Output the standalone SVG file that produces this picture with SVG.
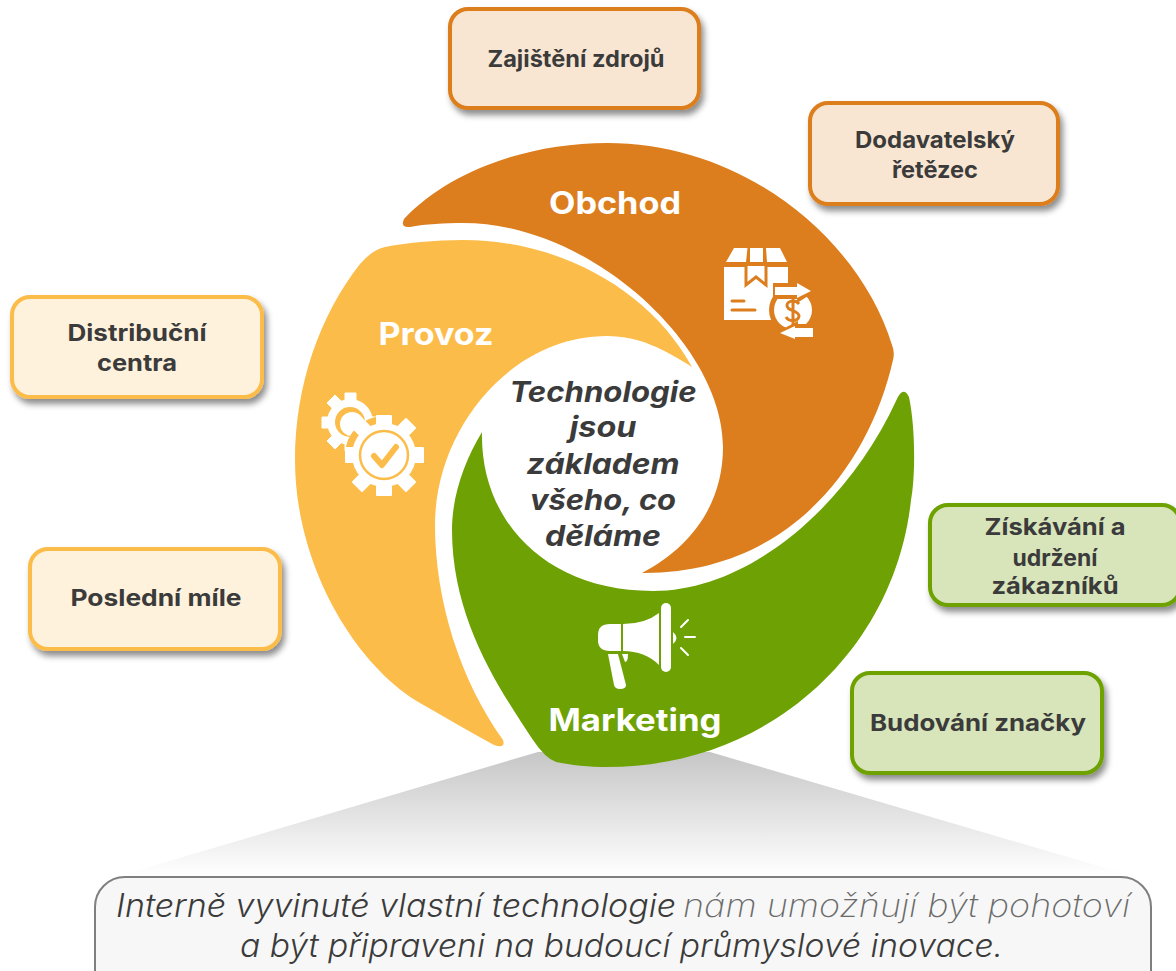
<svg xmlns="http://www.w3.org/2000/svg" width="1176" height="971" viewBox="0 0 1176 971">
<style>
text{font-family:Inter,"Open Sans","Noto Sans",sans-serif}
.box text{font-weight:700;font-size:23px;fill:#3b3b3b;text-anchor:middle}
.box rect{stroke-width:4;filter:url(#sh)}
.o rect{fill:#f9e6d2;stroke:#dc7e1e}
.y rect{fill:#fff2dc;stroke:#fcbc4a}
.g rect{fill:#d8e5bb;stroke:#6ea204}
.seg{font-weight:700;font-size:31px;fill:#fff;text-anchor:middle}
.c{font-weight:700;font-style:italic;font-size:28px;fill:#3b3b3b;text-anchor:middle}
.w{fill:#fff}
.note{font-style:italic;font-size:32px;fill:#3b3b3b;font-weight:300}
</style>
<defs>
<filter id="sh" x="-10%" y="-10%" width="125%" height="130%"><feDropShadow dx="3" dy="5" stdDeviation="3" flood-color="#000" flood-opacity=".45"/></filter>
<linearGradient id="fade" x1="0" y1="0" x2="0" y2="1"><stop offset="0" stop-color="#c6c6c6"/><stop offset="1" stop-color="#fff"/></linearGradient>
</defs>
<g id="connectors">
<path d="M538 752H710L1129 875H122Z" fill="url(#fade)"/>
</g>
<g id="note">
<rect x="95" y="877" width="1056" height="130" rx="30" fill="#f7f7f7" stroke="#7f7f7f" stroke-width="2"/>
<text class="note" y="917"><tspan x="116" textLength="560" lengthAdjust="spacingAndGlyphs">Interně vyvinuté vlastní technologie</tspan> <tspan x="683" textLength="447" lengthAdjust="spacingAndGlyphs" fill="#6b6b6b" font-weight="200">nám umožňují být pohotoví</tspan></text>
<text class="note" y="957" x="240" textLength="763" lengthAdjust="spacingAndGlyphs">a být připraveni na budoucí průmyslové inovace.</text>
</g>
<g id="obchod">
<path d="M404 219C450 170 530 143 607 143C745 143 860 240 892 345Q895 352 893 360C868 470 785 574 642 573C690 548 723 505 723 447C723 345 590 223 463 223C445 223 425 224 410 227Q400 228 404 219Z" fill="#dc7e1e"/>
<text class="seg" x="615" y="214" textLength="132" lengthAdjust="spacingAndGlyphs">Obchod</text>
<g id="box-icon">
<path class="w" d="M724 267H788V320H724Z"/>
<path class="w" d="M726 262L734 248H747.500L746 262ZM750 248H763V262H750ZM766 248H780L787 262H767Z"/>
<path d="M746 266V285L756 277L766 285V266" fill="#fff" stroke="#dc7e1e" stroke-width="3"/>
<path d="M732 301H744M732 310H755" stroke="#dc7e1e" stroke-width="3" stroke-linecap="round"/>
<circle cx="793" cy="310" r="24" fill="#dc7e1e"/>
<circle cx="793" cy="310" r="19" class="w"/>
<path d="M773 283H797V279L816 291L797 303V299H773ZM816 324H798V321L775 333L798 345V341H816Z" fill="#dc7e1e"/>
<path class="w" d="M775 287H797V283L811 291L797 298V295H775ZM813 328H795V326L780 333L795 339V337H813Z"/>
<path d="M799 304C796 300 788 300 787 305C786 311 799 310 799 316C798 322 789 322 786 317M793 296V325" fill="none" stroke="#dc7e1e" stroke-width="3"/>
</g>
</g>
<g id="provoz">
<path d="M692 367C650 290 560 240 463 240C435 240 405 243 385 247Q372 250 360 264C320 315 295 385 295 460C295 565 355 665 420 703C445 717 470 732 494 745Q506 749 503 740C460 680 435 600 435 525C435 430 510 336 607 336C640 336 665 350 692 367Z" fill="#fcbc4a"/>
<text class="seg" x="436" y="345" textLength="115" lengthAdjust="spacingAndGlyphs">Provoz</text>
<g id="gears" class="w">
<circle cx="350" cy="422" r="23"/>
<path d="M345 393h11v8h-11zM345 443h11v8h-11zM322 417h8v11h-8zM372 417h8v11h-8z" stroke="#fff" stroke-width="1" stroke-linejoin="round"/>
<path d="M327 403l8-8 7 7-8 8zM358 402l8 7-7 8-8-7zM334 434l8 8-7 7-8-8z" stroke="#fff" stroke-width="1" stroke-linejoin="round"/>
<circle cx="350" cy="422" r="15" fill="#fcbc4a"/>
<circle cx="352" cy="424" r="12"/>
<circle cx="384" cy="455" r="39" fill="#fcbc4a"/>
<circle cx="384" cy="455" r="32"/>
<path d="M377 416h14v8h-14zM377 486h14v9h-14zM346 448h8v14h-8zM414 448h9v14h-9z" stroke="#fff" stroke-width="2" stroke-linejoin="round"/>
<path d="M353 428l9-9 9 9-9 9zM397 428l9-9 9 9-9 9zM362 473l9 9-9 9-9-9zM406 473l9 9-9 9-9-9z" stroke="#fff" stroke-width="2" stroke-linejoin="round"/>
<circle cx="384" cy="455" r="24" fill="none" stroke="#fcbc4a" stroke-width="2.500"/>
<path d="M374 456l8 9 14-18" fill="none" stroke="#fcbc4a" stroke-width="6" stroke-linecap="round" stroke-linejoin="round"/>
</g>
</g>
<g id="marketing">
<path d="M896 401Q903 385 909 397C916 430 915 480 911 500C895 650 770 767 607 767C590 767 570 765 556 762Q545 758 533 740C500 690 452 620 452 530C452 495 465 460 482 432C480 520 545 591 653 591C750 591 848 505 896 401Z" fill="#6ea204"/>
<text class="seg" x="635" y="731" textLength="173" lengthAdjust="spacingAndGlyphs">Marketing</text>
<g class="w">
<path d="M621 624V651H610Q598 651 598 640V635Q598 624 610 624Z"/>
<path d="M623 624Q645 624 659 613V665Q645 651 623 651Z"/>
<rect x="661" y="603" width="10" height="69" rx="5"/>
<path d="M673 632Q680 638 673 644Z"/>
<path d="M608 654H618L626 685Q626 689 620 689Q615 689 614 685Z"/>
<path d="M622 654H628Q628 662 625 662Z"/>
</g>
<path d="M681 627l7-7M685 637h10M681 648l7 7" stroke="#fff" stroke-width="2" stroke-linecap="round"/>
</g>
<g id="center">
<text class="c" x="603" y="402" textLength="187" lengthAdjust="spacingAndGlyphs">Technologie</text>
<text class="c" x="603" y="437" textLength="67" lengthAdjust="spacingAndGlyphs">jsou</text>
<text class="c" x="603" y="474" textLength="153" lengthAdjust="spacingAndGlyphs">základem</text>
<text class="c" x="603" y="510" textLength="146" lengthAdjust="spacingAndGlyphs">všeho, co</text>
<text class="c" x="603" y="546" textLength="116" lengthAdjust="spacingAndGlyphs">děláme</text>
</g>
<g id="zajisteni" class="box o"><rect x="450" y="9" width="249" height="99" rx="18"/><text x="576" y="67" textLength="177" lengthAdjust="spacingAndGlyphs">Zajištění zdrojů</text></g>
<g id="dodavatelsky" class="box o"><rect x="810" y="103" width="248" height="101" rx="18"/><text x="935" y="148" textLength="160" lengthAdjust="spacingAndGlyphs">Dodavatelský</text><text x="935" y="178" textLength="86" lengthAdjust="spacingAndGlyphs">řetězec</text></g>
<g id="distribucni" class="box y"><rect x="12" y="297" width="250" height="100" rx="18"/><text x="137" y="341" textLength="139" lengthAdjust="spacingAndGlyphs">Distribuční</text><text x="137" y="371" textLength="80" lengthAdjust="spacingAndGlyphs">centra</text></g>
<g id="posledni" class="box y"><rect x="30" y="549" width="250" height="100" rx="18"/><text x="156" y="606" textLength="171" lengthAdjust="spacingAndGlyphs">Poslední míle</text></g>
<g id="ziskavani" class="box g"><rect x="930" y="505" width="250" height="100" rx="18"/><text x="1055" y="535" textLength="141" lengthAdjust="spacingAndGlyphs">Získávání a</text><text x="1055" y="566" textLength="85" lengthAdjust="spacingAndGlyphs">udržení</text><text x="1055" y="594" textLength="127" lengthAdjust="spacingAndGlyphs">zákazníků</text></g>
<g id="budovani" class="box g"><rect x="852" y="673" width="250" height="100" rx="18"/><text x="978" y="731" textLength="216" lengthAdjust="spacingAndGlyphs">Budování značky</text></g>
</svg>
